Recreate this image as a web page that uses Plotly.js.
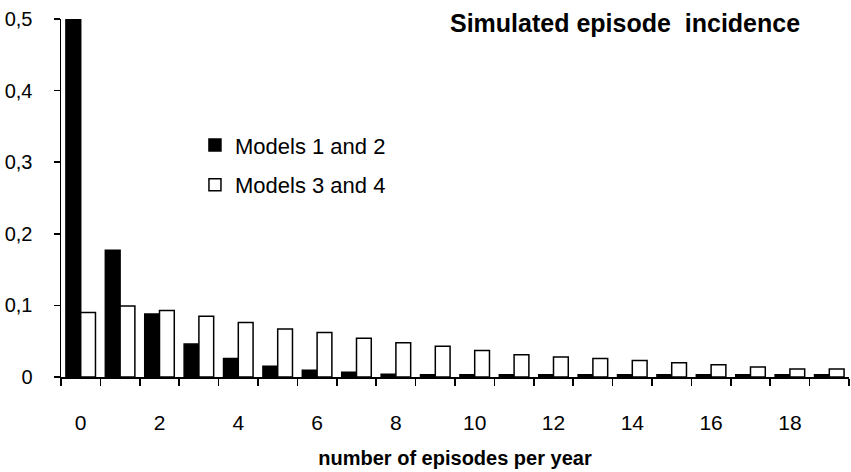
<!DOCTYPE html>
<html>
<head>
<meta charset="utf-8">
<script src="https://cdn.plot.ly/plotly-3.0.1.min.js"></script>
<style>html,body{margin:0;padding:0;background:#fff;}#chart{width:851px;height:472px;}</style>
</head>
<body>
<div id="chart"></div>
<script>
const categories = ["0","1","2","3","4","5","6","7","8","9","10","11","12","13","14","15","16","17","18","19"];
const tickLabels = ["0","","2","","4","","6","","8","","10","","12","","14","","16","","18",""];
const models12 = [0.5, 0.177, 0.088, 0.046, 0.026, 0.015, 0.0095, 0.0065, 0.004, 0.003, 0.003, 0.003, 0.003, 0.003, 0.003, 0.003, 0.003, 0.003, 0.003, 0.003];
const models34 = [0.09, 0.099, 0.093, 0.085, 0.076, 0.067, 0.062, 0.054, 0.048, 0.043, 0.037, 0.031, 0.028, 0.026, 0.023, 0.02, 0.017, 0.014, 0.011, 0.011];

const FONT = "Liberation Sans, Arial, sans-serif";

const traces = [
  {type:"bar", name:"Models 1 and 2", x:categories, y:models12, legendgroup:"a",
   marker:{color:"#000000", line:{color:"#000000", width:1.5}}, hoverinfo:"skip"},
  {type:"bar", name:"Models 3 and 4", x:categories, y:models34, legendgroup:"b",
   marker:{color:"#ffffff", line:{color:"#000000", width:1.5}}, hoverinfo:"skip"}
];

const layout = {
  width:851, height:472,
  margin:{l:61, r:2, t:19, b:95, pad:0},
  paper_bgcolor:"#ffffff", plot_bgcolor:"#ffffff",
  separators:",.",
  font:{family:FONT, color:"#000000", size:20},
  barmode:"group", bargap:0.25, bargroupgap:0,
  showlegend:true,
  legend:{x:0.17, y:0.706, xanchor:"left", yanchor:"top", bgcolor:"rgba(0,0,0,0)",
          font:{family:FONT, size:22, color:"#000"}, traceorder:"grouped", tracegroupgap:8, itemwidth:30},
  xaxis:{type:"category", categoryorder:"array", categoryarray:categories,
         tickmode:"array", tickvals:categories, ticktext:tickLabels, tickson:"boundaries",
         ticks:"outside", ticklen:7, tickwidth:1.5, tickcolor:"#000",
         showline:true, linecolor:"#000", linewidth:1.5, showgrid:false, zeroline:false,
         tickfont:{family:FONT, size:21, color:"#000"}, ticklabelstandoff:26,
         title:{text:"<b>number of episodes per year</b>", font:{family:FONT, size:20, color:"#000"}, standoff:18}},
  yaxis:{range:[0,0.5], tickmode:"linear", tick0:0, dtick:0.1,
         ticks:"outside", ticklen:6, tickwidth:1.5, tickcolor:"#000",
         showline:true, linecolor:"#000", linewidth:1.5, showgrid:false, zeroline:false,
         tickfont:{family:FONT, size:20, color:"#000"}, ticklabelstandoff:17},
  annotations:[
    {xref:"paper", yref:"paper", x:0.94, y:0.99, xanchor:"right", yanchor:"middle",
     text:"<b>Simulated episode  incidence</b>", showarrow:false,
     font:{family:FONT, size:25, color:"#000"}}
  ]
};

Plotly.newPlot("chart", traces, layout, {staticPlot:true, displayModeBar:false});
</script>
</body>
</html>
